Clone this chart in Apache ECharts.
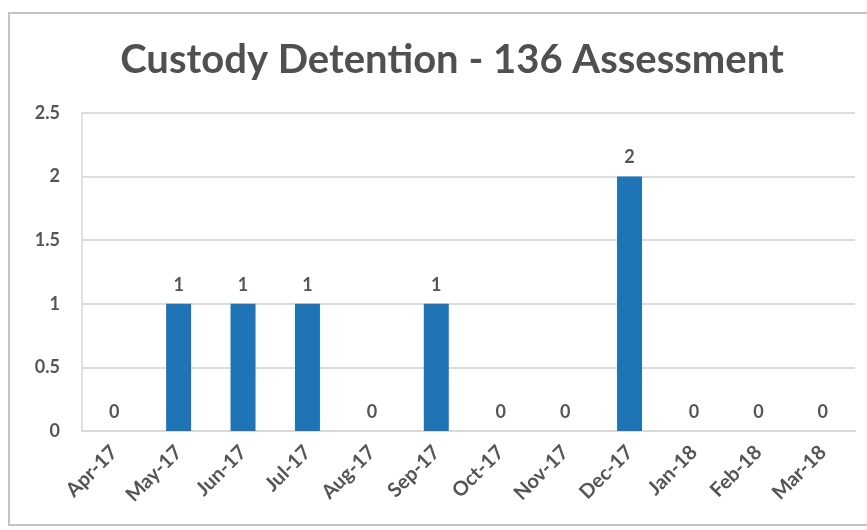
<!DOCTYPE html>
<html>
<head>
<meta charset="utf-8">
<script src="https://cdn.jsdelivr.net/npm/echarts@6/dist/echarts.min.js"></script>
<style>
    html, body { margin: 0; padding: 0; background: #fff; }
    .box { position: absolute; left: 8px; top: 12px; width: 870px; height: 514px;
           border: 2px solid #c4c4c4; border-right: none; box-sizing: border-box; }
    #chart { position: absolute; left: 0; top: 0; width: 867px; height: 530px; }
</style>
</head>
<body>
<div class="box"></div>
<div id="chart"></div>
<script>
// months on the x axis
const months = ["Apr-17", "May-17", "Jun-17", "Jul-17", "Aug-17", "Sep-17",
    "Oct-17", "Nov-17", "Dec-17", "Jan-18", "Feb-18", "Mar-18"];
// number of assessments per month
const counts = [0, 1, 1, 1, 0, 1, 0, 0, 2, 0, 0, 0];
const yTicks = [0, 0.5, 1, 1.5, 2, 2.5];

const grey = "#555555";
const font = "Lato";

let myChart = echarts.init(document.getElementById("chart"));
myChart.setOption({
    title: {
        text: "Custody Detention - 136 Assessment",
        left: 447,
        textAlign: "center",
        top: 35,
        textStyle: {
            color: "#505050",
            fontFamily: font,
            fontWeight: "bold",
            fontSize: 40,
        },
    },
    grid: {
        left: 82,
        right: 12,
        top: 113,
        bottom: 99,
        containLabel: false,
    },
    xAxis: {
        type: "category",
        data: months,
        axisTick: { show: false },
        axisLine: { lineStyle: { color: "#d9d9d9", width: 2 } },
        axisLabel: {
            rotate: 45,
            interval: 0,
            margin: 18,
            color: grey,
            fontFamily: font,
            fontWeight: "bold",
            fontSize: 20,
        },
    },
    yAxis: {
        type: "value",
        min: yTicks[0],
        max: yTicks[yTicks.length - 1],
        interval: 0.5,
        axisLine: { show: true, lineStyle: { color: "#e0e0e0", width: 2 } },
        axisTick: { show: false },
        splitLine: { lineStyle: { color: "#dcdcdc", width: 2 } },
        axisLabel: {
            margin: 22,
            color: grey,
            fontFamily: font,
            fontWeight: "bold",
            fontSize: 18,
        },
    },
    series: [
        {
            type: "bar",
            data: counts,
            barWidth: 25,
            itemStyle: { color: "#1f74b5" },
            label: {
                show: true,
                position: "top",
                distance: 10,
                color: grey,
                fontFamily: font,
                fontWeight: "bold",
                fontSize: 18,
            },
        },
    ],
});
</script>
</body>
</html>
